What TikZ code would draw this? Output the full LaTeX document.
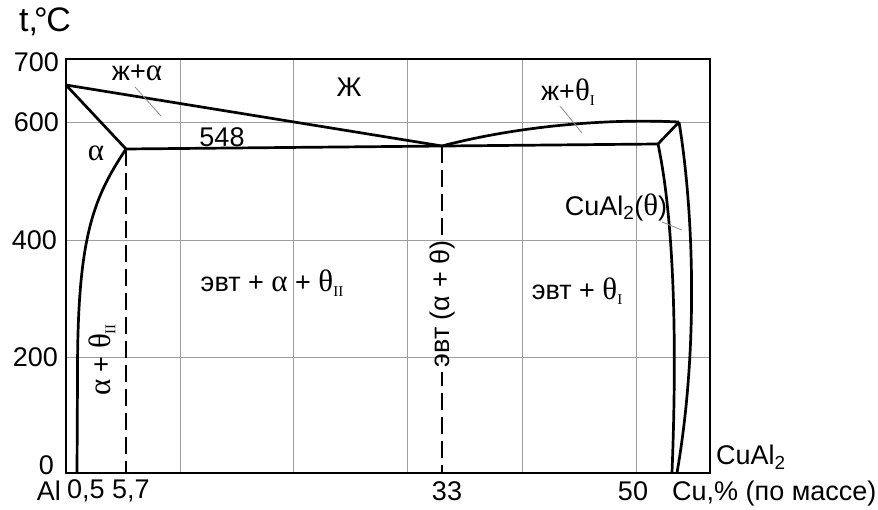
\documentclass[tikz,border=0pt]{standalone}
\usepackage{fontspec}
\setmainfont{Liberation Sans}
\newfontfamily\grk{Liberation Serif}
\newcommand\subr[1]{\raisebox{-0.35ex}{\fontsize{15}{15}\selectfont\grk #1}}
\newcommand\gr[1]{{\fontsize{31}{32}\selectfont\grk #1}}
\begin{document}
\begin{tikzpicture}[x=1pt,y=-1pt,
  lbl/.style={inner sep=0pt,font=\fontsize{27}{32}\selectfont},
  gridln/.style={draw=black!38,line width=0.9pt},
  frameln/.style={line width=2pt},
  curve/.style={line width=2.7pt,line join=round},
  leader/.style={draw=black!45,line width=0.8pt},
  dashln/.style={line width=2pt,dash pattern=on 17pt off 7pt}]
\useasboundingbox (0,0) rectangle (878,510);
% grid
\foreach \gx in {180,293,407,522,636} \draw[gridln] (\gx,59) -- (\gx,472.7);
\foreach \gy in {122,240,357} \draw[gridln] (66,\gy) -- (710,\gy);
% frame
\draw[frameln] (66,59) rectangle (710,472.7);
% phase lines
\coordinate (alm) at (66,85);
\coordinate (asol) at (126,149);
\coordinate (eut) at (442,146);
\coordinate (thl) at (658,144);
\coordinate (thr) at (679,122);
\draw[curve] (alm) -- (eut);
\draw[curve] (alm) -- (asol);
\draw[curve] (asol) -- (thl);
\draw[curve] (eut) .. controls (510,128) and (600,118) .. (thr);
\draw[curve] (thr) -- (thl);
\draw[curve] (thl) .. controls (672,210) and (678,320) .. (672,472.7);
\draw[curve] (thr) .. controls (692,200) and (700,340) .. (677,472.7);
\draw[curve] (asol) .. controls (92,200) and (77,240) .. (77.5,380) -- (77,472.7);
% dashed lines
\draw[dashln] (asol) -- (126,472.7);
\draw[dashln] (eut) -- (442,236);
\draw[dashln,dash phase=3pt] (442,372) -- (442,472.7);
% leaders
\draw[leader] (135,87) -- (161,116);
\draw[leader] (560,106) -- (582,133);
\draw[leader] (662,222) -- (682,230);
% axis labels
\node[lbl,font=\fontsize{34}{38}\selectfont] (tc) at (45,22) {t,\kern-0.12em°\kern-0.04em C};
\node[lbl,anchor=east] (y700) at (59,62) {700};
\node[lbl,anchor=east] (y600) at (59,122) {600};
\node[lbl,anchor=east] (y400) at (57,240) {400};
\node[lbl,anchor=east] (y200) at (58,357) {200};
\node[lbl,anchor=east] (y0) at (54,465) {0};
\node[lbl,anchor=east] (xal) at (61,491) {Al};
\node[lbl,anchor=west] (x05) at (67,491) {0,5};
\node[lbl,anchor=west] (x57) at (112,491) {5,7};
\node[lbl] (x33) at (447,491) {33};
\node[lbl] (x50) at (633,491) {50};
\node[lbl,anchor=west] (xcu) at (672,494) {Cu,\% (по массе)};
\node[lbl,anchor=west] (cual) at (716,457) {CuAl\textsubscript{2}};
% region labels
\node[lbl] (lza) at (137,73) {ж+\gr{α}};
\node[lbl] (t548) at (222,137) {548};
\node[lbl] (la) at (96,153) {\gr{α}};
\node[lbl] (lz) at (349,87) {Ж};
\node[lbl] (lzt) at (568,92) {ж+\gr{θ}\subr{I}};
\node[lbl] (lth) at (616,207) {CuAl\textsubscript{2}(\gr{θ})};
\node[lbl] (le1) at (272,283) {эвт + \gr{α} + \gr{θ}\subr{II}};
\node[lbl] (le2) at (577,291) {эвт + \gr{θ}\subr{I}};
\node[lbl,rotate=90] (lv1) at (102,360) {\gr{α} + \gr{θ}\subr{II}};
\node[lbl,rotate=90] (lv2) at (443,304) {эвт (α + θ)};
\end{tikzpicture}
\end{document}
